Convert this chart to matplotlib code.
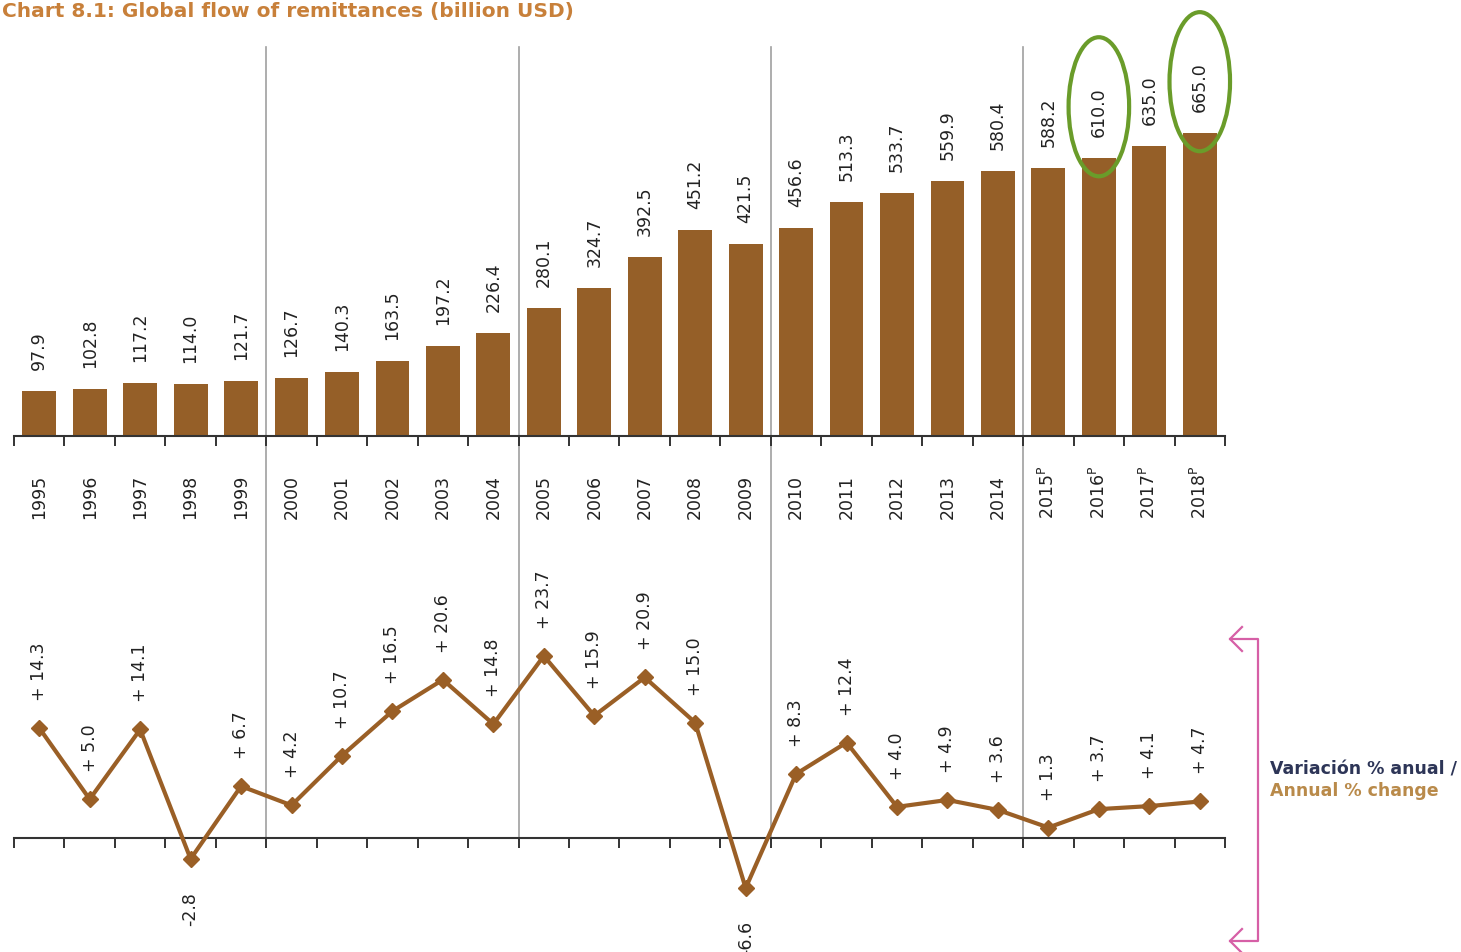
"""Global flow of remittances: bars with annual % change line below"""

import matplotlib

matplotlib.use("Agg")  # no display
import matplotlib.pyplot as plt
from matplotlib.lines import Line2D
from matplotlib.patches import Ellipse

# Datos
years = [str(y) for y in range(1995, 2019)]
preliminary = [False] * 20 + [True] * 4
remittances = [
    97.9, 102.8, 117.2, 114.0, 121.7, 126.7, 140.3, 163.5, 197.2, 226.4,
    280.1, 324.7, 392.5, 451.2, 421.5, 456.6, 513.3, 533.7, 559.9, 580.4,
    588.2, 610.0, 635.0, 665.0,
]
annual_change = [
    14.3, 5.0, 14.1, -2.8, 6.7, 4.2, 10.7, 16.5, 20.6, 14.8,
    23.7, 15.9, 20.9, 15.0, -6.6, 8.3, 12.4, 4.0, 4.9, 3.6,
    1.3, 3.7, 4.1, 4.7,
]
highlighted = ["2016", "2018"]
period_starts = ["2000", "2005", "2010", "2015"]

BROWN = "#955f28"
LINE_BROWN = "#9a5f26"
TEXT = "#222222"
GREEN = "#6a9c2a"
PINK = "#d65fa6"

W, H = 1461, 953
fig = plt.figure(figsize=(W / 100, H / 100), dpi=100)


def fx(px):
    return px / W


def fy(py):
    # py medido desde arriba de la imagen
    return 1 - py / H


x = list(range(len(years)))

# --- panel superior: barras ---
ax = fig.add_axes([fx(14), fy(437), fx(1225) - fx(14), fy(48) - fy(437)])
ax.set_xlim(-0.5, len(years) - 0.5)
ax.set_ylim(0, (437 - 48) / 0.456)
ax.bar(x, remittances, width=0.67, color=BROWN, zorder=2)

for s in ["left", "right", "top"]:
    ax.spines[s].set_visible(False)
ax.spines["bottom"].set_linewidth(1.5)
ax.spines["bottom"].set_color("#333333")
ax.set_yticks([])
ax.set_xticks([])
ax.set_xticks([i - 0.5 for i in range(len(years) + 1)], minor=True)
ax.tick_params(axis="x", which="minor", length=7, width=1.4, color="#333333",
               direction="out")

for i, v in enumerate(remittances):
    ax.annotate(f"{v:.1f}", xy=(i, v), xytext=(0, 22), textcoords="offset pixels",
                rotation=90, ha="center", va="bottom", fontsize=12.5, color=TEXT)

for i, (yr, p) in enumerate(zip(years, preliminary)):
    label = yr + r"$^{\mathrm{P}}$" if p else yr
    ax.annotate(label, xy=(i, 0), xytext=(0, -82), textcoords="offset pixels",
                rotation=90, ha="center", va="bottom", fontsize=12.5, color=TEXT)

# separadores de periodos (cruzan ambos paneles)
for yr in period_starts:
    xi = years.index(yr) - 0.5
    ax.axvline(xi, ymin=(437 - 840) / (437 - 48), ymax=1, color="#a0a0a0",
               lw=1.2, clip_on=False, zorder=0)

# ovalos verdes
for yr in highlighted:
    i = years.index(yr)
    ax.add_patch(Ellipse((i, remittances[i] + 112), width=1.2, height=305,
                         fill=False, edgecolor=GREEN, lw=3, clip_on=False, zorder=5))

# --- panel inferior: variacion anual ---
ax2 = fig.add_axes([fx(14), 0, fx(1225) - fx(14), fy(560)])
ax2.set_xlim(-0.5, len(years) - 0.5)
zero_from_bottom = H - 838.5
ax2.set_ylim(-zero_from_bottom / 7.66, (fy(560) * H - zero_from_bottom) / 7.66)
ax2.plot(x, annual_change, color=LINE_BROWN, lw=3, marker="D", markersize=8,
         zorder=3)

for s in ["left", "right", "top"]:
    ax2.spines[s].set_visible(False)
ax2.spines["bottom"].set_position(("data", 0))
ax2.spines["bottom"].set_linewidth(1.5)
ax2.spines["bottom"].set_color("#333333")
ax2.set_yticks([])
ax2.set_xticks([])
ax2.set_xticks([i - 0.5 for i in range(len(years) + 1)], minor=True)
ax2.tick_params(axis="x", which="minor", length=7, width=1.4, color="#333333",
                direction="out")
ax2.patch.set_visible(False)

for i, v in enumerate(annual_change):
    if v >= 0:
        ax2.annotate(f"+ {v:.1f}", xy=(i, v), xytext=(0, 28), textcoords="offset pixels",
                     rotation=90, ha="center", va="bottom", fontsize=12.5, color=TEXT)
    else:
        ax2.annotate(f"-{abs(v):.1f}", xy=(i, v), xytext=(0, -32), textcoords="offset pixels",
                     rotation=90, ha="center", va="top", fontsize=12.5, color=TEXT)

# corchete rosa con flechas
bracket = [
    ([1230, 1258, 1258, 1230], [640, 640, 942, 942]),
    ([1242, 1230, 1242], [628, 640, 652]),
    ([1242, 1230, 1242], [930, 942, 954]),
]
for xs, ys in bracket:
    fig.add_artist(Line2D([fx(v) for v in xs], [fy(v) for v in ys], color=PINK,
                          lw=1.6, transform=fig.transFigure))

fig.text(fx(1270), fy(769), "Variación % anual /", fontsize=12.5, fontweight="bold",
         color="#2d3557", va="center", ha="left")
fig.text(fx(1270), fy(791), "Annual % change", fontsize=12.5, fontweight="bold",
         color="#b98a4a", va="center", ha="left")

# titulo
fig.text(fx(2), fy(17), "Chart 8.1: Global flow of remittances (billion USD)",
         fontsize=14.5, fontweight="bold", color="#c8803a", va="baseline", ha="left")

fig.savefig("out.png", dpi=100)
plt.close(fig)
